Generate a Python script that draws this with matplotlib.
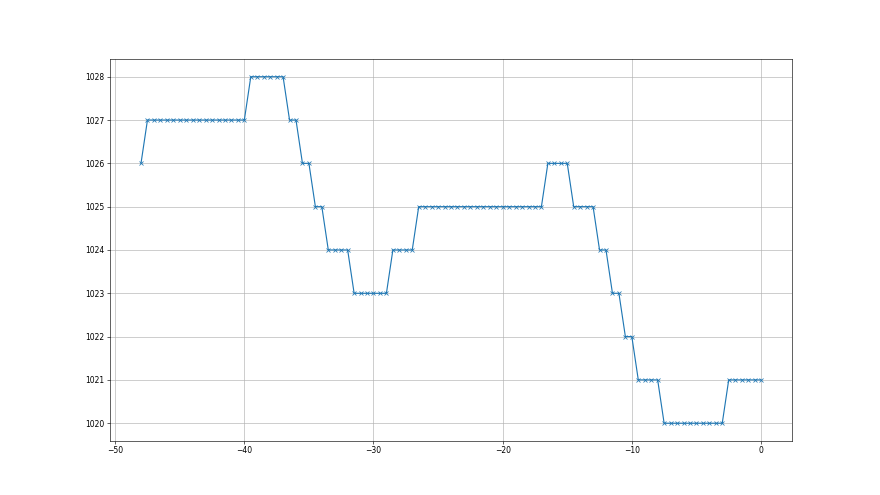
import numpy as np
import matplotlib
matplotlib.use("Agg")
import matplotlib.pyplot as plt

# time offsets (half-unit steps) and the readings at each one
offsets = np.arange(-48, 0.5, 0.5)
values = ([1026] + [1027] * 16 + [1028] * 6 + [1027] * 2 + [1026] * 2 +
          [1025] * 2 + [1024] * 4 + [1023] * 6 + [1024] * 4 + [1025] * 20 +
          [1026] * 4 + [1025] * 4 + [1024] * 2 + [1023] * 2 + [1022] * 2 +
          [1021] * 4 + [1020] * 10 + [1021] * 6)

fig, ax = plt.subplots(figsize=(16, 9), dpi=55)
ax.plot(offsets, values, marker='x', color='#1f77b4')
ax.grid(True)

plt.savefig('out.png', dpi=55)
plt.close()
